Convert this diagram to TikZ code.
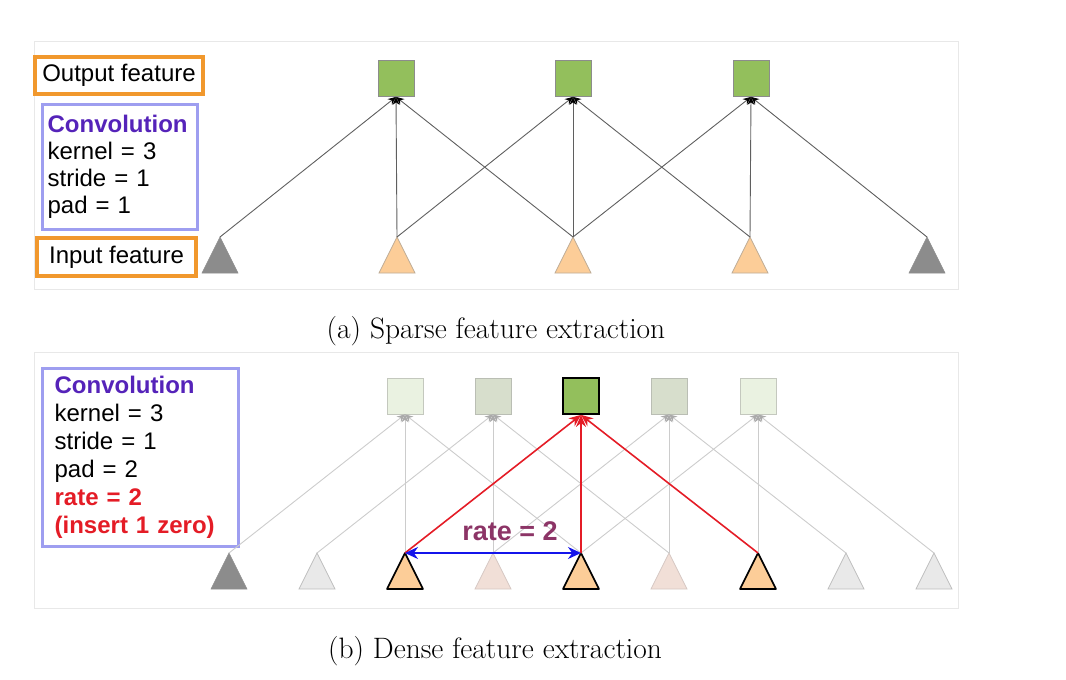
\documentclass[tikz,border=0pt]{standalone}
\usepackage{fontspec}
\setsansfont{Liberation Sans}
\usetikzlibrary{arrows.meta,calc}
\definecolor{framegray}{RGB}{232,232,232}
\definecolor{boxorange}{RGB}{241,152,45}
\definecolor{boxblue}{RGB}{158,158,240}
\definecolor{convpurple}{RGB}{85,35,185}
\definecolor{ratered}{RGB}{228,28,38}
\definecolor{ratepurple}{RGB}{140,52,102}
\definecolor{arrowblue}{RGB}{20,20,235}
\definecolor{sqgreen}{RGB}{147,191,92}
\definecolor{sqborder}{RGB}{140,140,140}
\definecolor{sqpale}{RGB}{234,242,225}
\definecolor{sqpaleborder}{RGB}{196,200,190}
\definecolor{sqmid}{RGB}{215,222,204}
\definecolor{sqmidborder}{RGB}{186,190,180}
\definecolor{triorange}{RGB}{252,205,152}
\definecolor{triorangeborder}{RGB}{190,172,150}
\definecolor{tridark}{RGB}{140,140,140}
\definecolor{trilight}{RGB}{233,233,233}
\definecolor{trilightborder}{RGB}{190,190,190}
\definecolor{tripink}{RGB}{241,223,215}
\definecolor{tripinkborder}{RGB}{214,200,195}
\definecolor{topline}{RGB}{95,95,95}
\definecolor{paleline}{RGB}{204,204,204}
\definecolor{palearrow}{RGB}{170,170,170}
\newcommand\tri[4]{%
  \coordinate (#1) at (#2,#3);
  \path[#4] (#1) -- ++(18,36) -- ++(-36,0) -- cycle;}
\begin{document}
\begin{tikzpicture}[x=1pt,y=-1pt,
  frame/.style={draw=framegray,line width=0.9pt},
  sansfont/.style={font=\sffamily\fontsize{24}{27}\selectfont},
  labbox/.style={sansfont,draw=boxorange,line width=3.3pt,inner sep=0pt},
  convbox/.style={sansfont,draw=boxblue,line width=3.3pt,align=left,anchor=north west,inner ysep=0pt},
  caption/.style={font=\rmfamily\fontsize{29.5}{33}\selectfont,anchor=base},
  outsq/.style={draw=sqborder,fill=sqgreen,minimum size=36pt,inner sep=0pt,line width=0.8pt},
  palesq/.style={outsq,draw=sqpaleborder,fill=sqpale},
  midsq/.style={outsq,draw=sqmidborder,fill=sqmid},
  activesq/.style={outsq,draw=black,line width=1.8pt},
  darktri/.style={fill=tridark,draw=tridark,line width=0.6pt},
  orangetri/.style={fill=triorange,draw=triorangeborder,line width=0.8pt},
  activetri/.style={fill=triorange,draw=black,line width=1.6pt,line join=round},
  lighttri/.style={fill=trilight,draw=trilightborder,line width=0.8pt},
  pinktri/.style={fill=tripink,draw=tripinkborder,line width=0.8pt},
  conn/.style={draw=topline,line width=0.9pt,-{Stealth[length=8pt,width=7pt,color=black]}},
  paleconn/.style={draw=paleline,line width=0.9pt,-{Stealth[length=8pt,width=7pt,color=palearrow]}},
  redconn/.style={draw=ratered,line width=1.6pt,-{Stealth[length=12pt,width=10pt]}},
  rateconn/.style={draw=arrowblue,line width=1.8pt,{Stealth[length=13pt,width=12pt]}-{Stealth[length=13pt,width=12pt]}}
]
\useasboundingbox (0,0) rectangle (1066,680);

% ---------------- (a) sparse ----------------
\draw[frame] (34,41) rectangle (958,289);

\node[labbox,minimum width=168pt,minimum height=37pt] (outlab) at (119,75.5) {Output feature};
\node[convbox,minimum width=155pt,minimum height=125pt,text width=145pt,inner xsep=5pt] (conva) at (41,103)
  {{\bfseries\color{convpurple}Convolution}\\kernel = 3\\stride = 1\\pad = 1};
\node[labbox,minimum width=159pt,minimum height=38pt] (inlab) at (116.5,257) {Input feature};

\node[outsq] (o1) at (396,78.5) {};
\node[outsq] (o2) at (573,78.5) {};
\node[outsq] (o3) at (751,78.5) {};

\tri{t1}{220}{237}{darktri}
\tri{t2}{397}{237}{orangetri}
\tri{t3}{573}{237}{orangetri}
\tri{t4}{750}{237}{orangetri}
\tri{t5}{927}{237}{darktri}

\foreach \o/\a/\b/\c in {o1/t1/t2/t3,o2/t2/t3/t4,o3/t3/t4/t5}{
  \draw[conn] (\a) -- (\o.south);
  \draw[conn] (\b) -- (\o.south);
  \draw[conn] (\c) -- (\o.south);
}

\node[caption] (capa) at (496,338) {(a) Sparse feature extraction};

% ---------------- (b) dense ----------------
\draw[frame] (34,352) rectangle (958,608);

\node[convbox,minimum width=196pt,minimum height=178pt,text width=172pt,inner xsep=12pt] (convb) at (41,367)
  {{\bfseries\color{convpurple}Convolution}\\[1pt]kernel = 3\\[1pt]stride = 1\\[1pt]pad = 2\\[1pt]{\bfseries\color{ratered}rate = 2}\\[1pt]{\bfseries\color{ratered}(insert 1 zero)}};

\tri{b1}{229}{553}{darktri}
\tri{b2}{317}{553}{lighttri}
\tri{b3}{405}{553}{activetri}
\tri{b4}{493}{553}{pinktri}
\tri{b5}{581}{553}{activetri}
\tri{b6}{669}{553}{pinktri}
\tri{b7}{758}{553}{activetri}
\tri{b8}{846}{553}{lighttri}
\tri{b9}{934}{553}{lighttri}

\node[palesq] (p1) at (405,396) {};
\node[midsq] (p2) at (493,396) {};
\node[midsq] (p4) at (669,396) {};
\node[palesq] (p5) at (758,396) {};

\foreach \o/\a/\b/\c in {p1/b1/b3/b5,p2/b2/b4/b6,p4/b4/b6/b8,p5/b5/b7/b9}{
  \draw[paleconn] (\a) -- (\o.south);
  \draw[paleconn] (\b) -- (\o.south);
  \draw[paleconn] (\c) -- (\o.south);
}

\node[activesq] (p3) at (581,396) {};
\draw[redconn] (b3) -- (p3.south);
\draw[redconn] (b5) -- (p3.south);
\draw[redconn] (b7) -- (p3.south);

\draw[rateconn] (b3) -- (b5);
\node[font=\sffamily\bfseries\fontsize{27}{30}\selectfont,text=ratepurple,anchor=base] (ratelab) at (510,540) {rate = 2};

\node[caption] (capb) at (495,658) {(b) Dense feature extraction};
\end{tikzpicture}
\end{document}
